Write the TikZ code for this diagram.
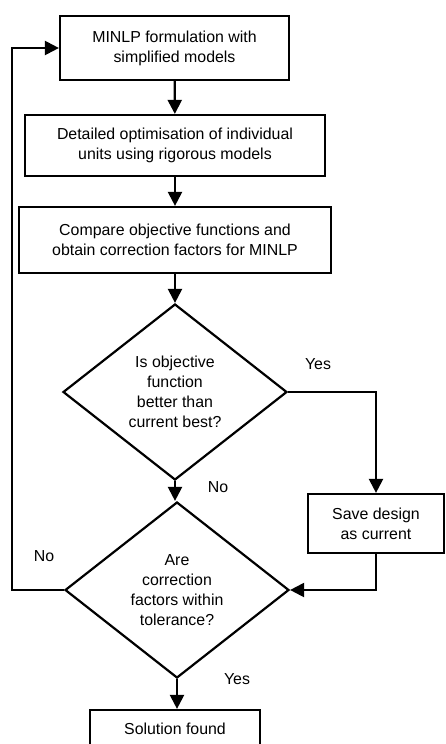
\documentclass[tikz,border=0pt]{standalone}
\usepackage{fontspec}
\setmainfont{Liberation Sans}
\usetikzlibrary{shapes.geometric,arrows.meta}

\tikzset{
  procbox/.style={draw,line width=2.2pt,align=center,inner sep=0pt},
  decision/.style={draw,diamond,line width=2.2pt,align=center,inner sep=0pt,
    aspect=1.27,minimum width=224pt,minimum height=176pt},
  flow/.style={line width=2.2pt,-{Triangle[length=14pt,width=14pt]}},
  lbl/.style={inner sep=0pt}
}

\begin{document}
\begin{tikzpicture}[x=1pt,y=-1pt,font=\fontsize{15.9}{20}\selectfont]
				\useasboundingbox (0,0) rectangle (446,744);
				% process boxes
				\node[procbox,minimum width=229pt,minimum height=64pt] (minlp) at (174.5,48) {MINLP formulation with\\simplified models};
				\node[procbox,minimum width=300pt,minimum height=61pt] (detail) at (175,145.5) {Detailed optimisation of individual\\units using rigorous models};
				\node[procbox,minimum width=312pt,minimum height=66pt] (compare) at (175,240) {Compare objective functions and\\obtain correction factors for MINLP};
				% decisions
				\node[decision] (better) at (175,392) {Is objective\\function\\better than\\current best?};
				\node[decision] (tol) at (177,590) {Are\\correction\\factors within\\tolerance?};
				\node[procbox,minimum width=136pt,minimum height=59pt] (save) at (376,523.5) {Save design\\as current};
				\node[procbox,minimum width=170pt,minimum height=38pt] (sol) at (175,729) {Solution found};
				\coordinate (loop) at (12,590);
				% connectors
				\draw[flow] (minlp) -- (detail);
				\draw[flow] (detail) -- (compare);
				\draw[flow] (compare) -- (better);
				\draw[flow] (better.south) -- (better.south |- tol.north);
				\draw[flow] (better.east) -| (save.north);
				\draw[flow] (save.south) |- (tol.east);
				\draw[flow] (tol.west) -- (loop) |- (minlp.west);
				\draw[flow] (tol.south) -- (tol.south |- sol.north);
				% labels
				\node[lbl] (yes1) at (318,364) {Yes};
				\node[lbl] (no1) at (218,487) {No};
				\node[lbl] (no2) at (44,556) {No};
				\node[lbl] (yes2) at (237,679) {Yes};
			\end{tikzpicture}
\end{document}
